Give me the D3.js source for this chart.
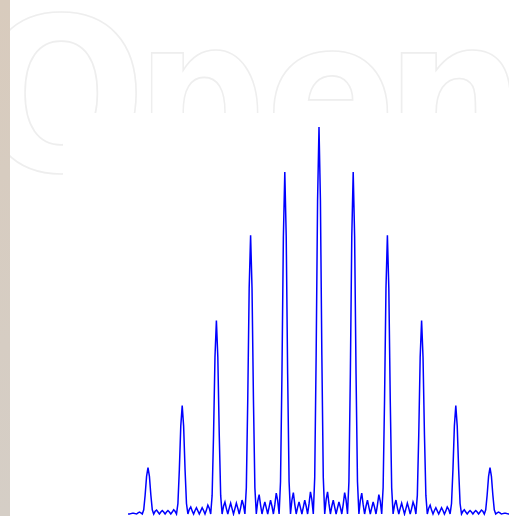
<!DOCTYPE html>
<html>
<head>
<meta charset="utf-8">
<script src="https://cdnjs.cloudflare.com/ajax/libs/d3/7.8.5/d3.min.js"></script>
<style>
  html, body { margin: 0; padding: 0; background: #fff; overflow: hidden; }
</style>
</head>
<body>
<svg id="chart" width="509" height="516"></svg>
<script>
"use strict"

// diffraction order positions and sampled intensity (24 samples per order)
var xStart = -5 - 14 / 24;
var samplesPerOrder = 24;

// left tail up to order -5
var headI = [0, 0, .001, .002, .002, .001, 0, .003, .005, .003, 0, .011, .049, .097];
// order -5 -> -4 ... -1 -> 0
var negI = [
    .120, .097, .049, .011, 0, .007, .010, .005, 0, .005, .009, .005, 0, .005, .009, .005, 0, .005, .011, .007, 0, .027, .115, .227,
    .280, .227, .115, .027, 0, .012, .018, .008, 0, .009, .016, .008, 0, .008, .016, .009, 0, .010, .023, .015, 0, .048, .205, .405,
    .500, .405, .205, .048, 0, .020, .031, .014, 0, .015, .028, .014, 0, .014, .028, .015, 0, .016, .036, .023, 0, .068, .295, .583,
    .720, .583, .295, .068, 0, .033, .050, .023, 0, .017, .031, .016, 0, .018, .036, .020, 0, .024, .054, .035, 0, .084, .362, .716,
    .884, .716, .362, .084, 0, .036, .055, .025, 0, .017, .031, .016, 0, .018, .036, .020, 0, .026, .057, .037, 0, .095, .410, .810
];
// order 0 -> 1 ... 4 -> 5
var posI = [
    1.00, .810, .410, .095, 0, .037, .057, .026, 0, .020, .036, .018, 0, .016, .031, .017, 0, .025, .055, .036, 0, .084, .362, .716,
    .884, .716, .362, .084, 0, .035, .054, .024, 0, .020, .036, .018, 0, .016, .031, .017, 0, .023, .050, .033, 0, .068, .295, .583,
    .720, .583, .295, .068, 0, .023, .036, .016, 0, .015, .028, .014, 0, .014, .028, .015, 0, .014, .031, .020, 0, .048, .205, .405,
    .500, .405, .205, .048, 0, .015, .023, .010, 0, .009, .016, .008, 0, .008, .016, .009, 0, .008, .018, .012, 0, .027, .115, .227,
    .280, .227, .115, .027, 0, .007, .011, .005, 0, .005, .009, .005, 0, .005, .009, .005, 0, .005, .010, .007, 0, .011, .049, .097
];
// order 5 and right tail
var tailI = [.120, .097, .049, .011, 0, .003, .005, .003, 0, .001, .002, .002, .001, 0, 0];

var watermarkText = "Open";

var intensity = headI.concat(negI, posI, tailI);
var data = intensity.map(function(v, i) {
    return {x: xStart + i / samplesPerOrder, y: v};
});

var svg = d3.select("#chart"),
    W = +svg.attr("width"),
    H = +svg.attr("height");

var defs = svg.append("defs");
var grad = defs.append("linearGradient")
    .attr("id", "strip")
    .attr("x1", 0).attr("y1", 0).attr("x2", 0).attr("y2", 1);
grad.append("stop").attr("offset", "0%").attr("stop-color", "#d8cbbd");
grad.append("stop").attr("offset", "100%").attr("stop-color", "#d5cec6");

svg.append("rect")
    .attr("width", W)
    .attr("height", H)
    .attr("fill", "#fff");

// faint outlined watermark behind the plot, one squeezed glyph per letter
// [left edge of ink, horizontal squeeze, glyph side bearing]
var wmFit = [[-14, 0.93, 10.5], [153, 0.84, 19.5], [275, 0.9, 10.5], [403, 0.92, 19.5]];
svg.append("g")
    .attr("fill", "none")
    .attr("stroke", "#eeeeee")
    .attr("stroke-width", 1.7)
    .style("font-family", "'DejaVu Sans'")
    .style("font-weight", "bold")
    .style("font-size", "215px")
    .selectAll("text")
    .data(watermarkText.split(""))
    .enter().append("text")
    .attr("transform", function(d, i) {
        var f = wmFit[i];
        return "translate(" + (f[0] - f[2] * f[1]) + ",171) scale(" + f[1] + ",1)";
    })
    .text(function(d) { return d; });

// plot area covers the watermark
svg.append("rect")
    .attr("x", 63)
    .attr("y", 113)
    .attr("width", W - 63)
    .attr("height", H - 113)
    .attr("fill", "#fff");

svg.append("rect")
    .attr("width", 10)
    .attr("height", H)
    .attr("fill", "url(#strip)");

var xScale = d3.scaleLinear()
    .domain([xStart, -xStart])
    .range([319 - 34.2 * -xStart, 319 + 34.2 * -xStart]);

var yScale = d3.scaleLinear()
    .domain([0, 1])
    .range([514, 127]);

var line = d3.line()
    .x(function(d) { return xScale(d.x); })
    .y(function(d) { return yScale(d.y); });

svg.append("path")
    .datum(data)
    .attr("fill", "none")
    .attr("stroke", "#0000ff")
    .attr("stroke-width", 1.5)
    .attr("d", line);
</script>
</body>
</html>
